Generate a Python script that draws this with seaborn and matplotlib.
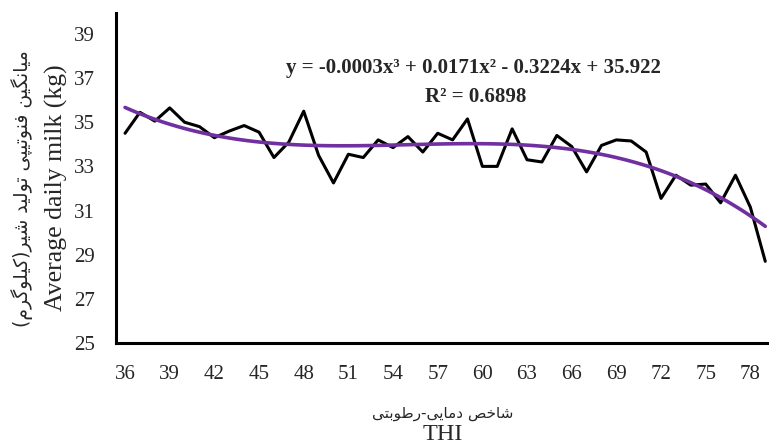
import matplotlib
matplotlib.use("Agg")
import matplotlib.pyplot as plt
import seaborn as sns
import pandas as pd
import numpy as np

# ---- data ----
thi = list(range(36, 80))
milk = [34.5, 35.45, 35.05, 35.65, 35.0, 34.8, 34.3, 34.6, 34.85, 34.55,
        33.4, 34.1, 35.5, 33.5, 32.25, 33.55, 33.4, 34.2, 33.85, 34.35,
        33.65, 34.5, 34.2, 35.15, 33.0, 33.0, 34.7, 33.3, 33.2, 34.4,
        33.9, 32.75, 33.95, 34.2, 34.15, 33.65, 31.55, 32.6, 32.15, 32.2,
        31.35, 32.6, 31.15, 28.7]
yticks = [25, 27, 29, 31, 33, 35, 37, 39]
xticks = [36, 39, 42, 45, 48, 51, 54, 57, 60, 63, 66, 69, 72, 75, 78]
eq_text = "y = -0.0003x³ + 0.0171x² - 0.3224x + 35.922"
r2_text = "R² = 0.6898"
ylabel_fa = "میانگین فنوتیپی تولید شیر(کیلوگرم)"
ylabel_en = "Average daily milk (kg)"
xlabel_fa = "شاخص دمایی-رطوبتی"
xlabel_en = "THI"

# ---- minimal Persian shaping (presentation forms) ----
FORMS = {  # iso, fin, ini, med (None -> non-joining to next)
    'ا': ('\uFE8D', '\uFE8E', None, None),
    'ب': ('\uFE8F', '\uFE90', '\uFE91', '\uFE92'),
    'ت': ('\uFE95', '\uFE96', '\uFE97', '\uFE98'),
    'خ': ('\uFEA5', '\uFEA6', '\uFEA7', '\uFEA8'),
    'د': ('\uFEA9', '\uFEAA', None, None),
    'ر': ('\uFEAD', '\uFEAE', None, None),
    'ش': ('\uFEB5', '\uFEB6', '\uFEB7', '\uFEB8'),
    'ص': ('\uFEB9', '\uFEBA', '\uFEBB', '\uFEBC'),
    'ط': ('\uFEC1', '\uFEC2', '\uFEC3', '\uFEC4'),
    'ف': ('\uFED1', '\uFED2', '\uFED3', '\uFED4'),
    'ل': ('\uFEDD', '\uFEDE', '\uFEDF', '\uFEE0'),
    'م': ('\uFEE1', '\uFEE2', '\uFEE3', '\uFEE4'),
    'ن': ('\uFEE5', '\uFEE6', '\uFEE7', '\uFEE8'),
    'و': ('\uFEED', '\uFEEE', None, None),
    'ی': ('\uFBFC', '\uFBFD', '\uFBFE', '\uFBFF'),
    'ک': ('\uFB8E', '\uFB8F', '\uFB90', '\uFB91'),
    'گ': ('\uFB92', '\uFB93', '\uFB94', '\uFB95'),
    'پ': ('\uFB56', '\uFB57', '\uFB58', '\uFB59'),
}
MIRROR = {'(': ')', ')': '('}


def shape(s):
    out = []
    for i, c in enumerate(s):
        if c not in FORMS:
            out.append(MIRROR.get(c, c))
            continue
        prev = s[i - 1] if i > 0 else None
        nxt = s[i + 1] if i + 1 < len(s) else None
        jp = prev in FORMS and FORMS[prev][2] is not None
        jn = FORMS[c][2] is not None and nxt in FORMS
        iso, fin, ini, med = FORMS[c]
        if jp and jn:
            out.append(med)
        elif jp:
            out.append(fin)
        elif jn:
            out.append(ini)
        else:
            out.append(iso)
    return ''.join(reversed(out))


df = pd.DataFrame({"THI": thi, "milk": milk})

sns.set_style("white")
plt.rcParams['font.family'] = ['Liberation Serif', 'DejaVu Sans']

fig = plt.figure(figsize=(7.69, 4.47), dpi=100)
ax = fig.add_axes([0.151, 0.2327, 0.848, 0.7383])

sns.lineplot(data=df, x="THI", y="milk", ax=ax, color="black", linewidth=2.2)
sns.regplot(data=df, x="THI", y="milk", ax=ax, order=3, ci=None, scatter=False,
            line_kws=dict(color="#7030A0", linewidth=2.6))

ax.set_xlim(35.4, 79.2)
ax.set_ylim(25, 39.95)
ax.set_xticks(xticks)
ax.set_yticks(yticks)
ax.tick_params(axis='x', length=0, pad=16, labelsize=15)
ax.tick_params(axis='y', length=0, pad=15, labelsize=15)
for lab in ax.get_xticklabels() + ax.get_yticklabels():
    lab.set_family('Liberation Serif')
ax.set_xlabel("")
ax.set_ylabel("")
for side in ['top', 'right']:
    ax.spines[side].set_visible(False)
for side in ['left', 'bottom']:
    ax.spines[side].set_color('black')
    ax.spines[side].set_linewidth(2.2)

fig.text(0.616, 0.837, eq_text, ha='center', va='baseline', fontsize=15,
         fontweight='bold', family='Liberation Serif')
fig.text(0.619, 0.772, r2_text, ha='center', va='baseline', fontsize=15,
         fontweight='bold', family='Liberation Serif')

fig.text(0.029, 0.579, shape(ylabel_fa), rotation=90, ha='center', va='center',
         fontsize=13.5, family='DejaVu Sans')
fig.text(0.074, 0.579, ylabel_en, rotation=90, ha='center', va='center',
         fontsize=18.5, family='Liberation Serif')
fig.text(0.576, 0.076, shape(xlabel_fa), ha='center', va='center',
         fontsize=11, family='DejaVu Sans')
fig.text(0.576, 0.004, xlabel_en, ha='center', va='bottom',
         fontsize=17.5, family='Liberation Serif')

fig.savefig("out.png", dpi=100)
